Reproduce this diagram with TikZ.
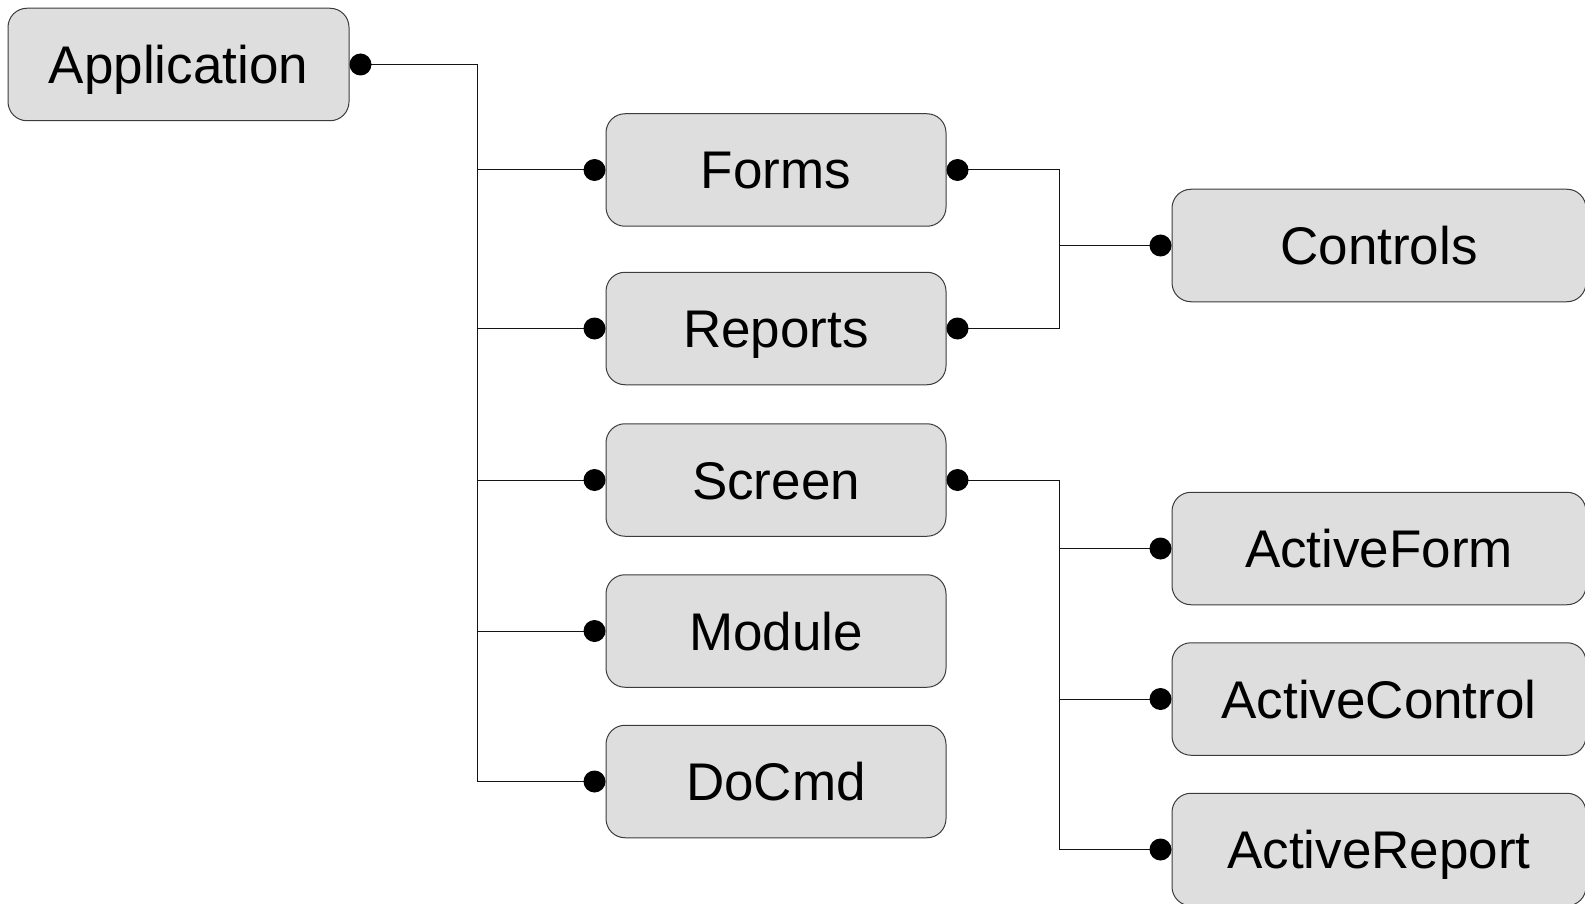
\documentclass[tikz,border=0pt]{standalone}
\usepackage{fontspec}
\setmainfont{Liberation Sans}
\begin{document}
\begin{tikzpicture}[x=1pt,y=-1pt,
  objbox/.style={draw={rgb,255:red,60;green,60;blue,60}, line width=1pt,
    fill={rgb,255:red,221;green,222;blue,221}, rounded corners=19pt,
    inner sep=0pt, minimum height=112.5pt,
    text height=38pt, text depth=0pt,
    font=\fontsize{53pt}{60pt}\selectfont},
  midbox/.style={objbox, minimum width=340pt},
  widebox/.style={objbox, minimum width=414pt},
  wire/.style={draw={rgb,255:red,20;green,20;blue,20}, line width=1pt},
  dot/.style={fill=black}
]
\useasboundingbox (0,0) rectangle (1585,904);
\clip (0,0) rectangle (1585,904);

% objects
\node[objbox, minimum width=341pt] (app) at (178.5,64.5) {Application};
\node[midbox] (forms)   at (776,170)   {Forms};
\node[midbox] (reports) at (776,328.5) {Reports};
\node[midbox] (screen)  at (776,480)   {Screen};
\node[midbox] (module)  at (776,631)   {Module};
\node[midbox] (docmd)   at (776,781.5) {DoCmd};
\node[widebox] (controls) at (1379,245.5) {Controls};
\node[widebox] (aform)    at (1379,548.5) {ActiveForm};
\node[widebox] (acontrol) at (1379,699)   {ActiveControl};
\node[widebox] (areport)  at (1379,849.5) {ActiveReport};

% connection points just outside the boxes
\coordinate (appR) at ([xshift=11pt]app.east);
\foreach \n in {forms,reports,screen,module,docmd}{
  \coordinate (\n L) at ([xshift=-11pt]\n.west);
  \coordinate (\n R) at ([xshift=11pt]\n.east);
}
\foreach \n in {controls,aform,acontrol,areport}{
  \coordinate (\n L) at ([xshift=-11pt]\n.west);
}
\coordinate (bus1) at (477,0);
\coordinate (bus2) at (1059.5,0);

% Application tree
\draw[wire] (appR) -| (bus1 |- docmdL) -- (docmdL);
\foreach \n in {forms,reports,screen,module}{
  \draw[wire] (bus1 |- \n L) -- (\n L);
}

% Forms / Reports -> Controls
\draw[wire] (formsR) -| (bus2 |- reportsR) -- (reportsR);
\draw[wire] (bus2 |- controlsL) -- (controlsL);

% Screen -> active objects
\draw[wire] (screenR) -| (bus2 |- areportL) -- (areportL);
\draw[wire] (bus2 |- aformL) -- (aformL);
\draw[wire] (bus2 |- acontrolL) -- (acontrolL);

% end dots
\foreach \p in {appR,formsL,formsR,reportsL,reportsR,screenL,screenR,
                moduleL,docmdL,controlsL,aformL,acontrolL,areportL}{
  \fill[dot] (\p) circle (11pt);
}
\end{tikzpicture}
\end{document}
